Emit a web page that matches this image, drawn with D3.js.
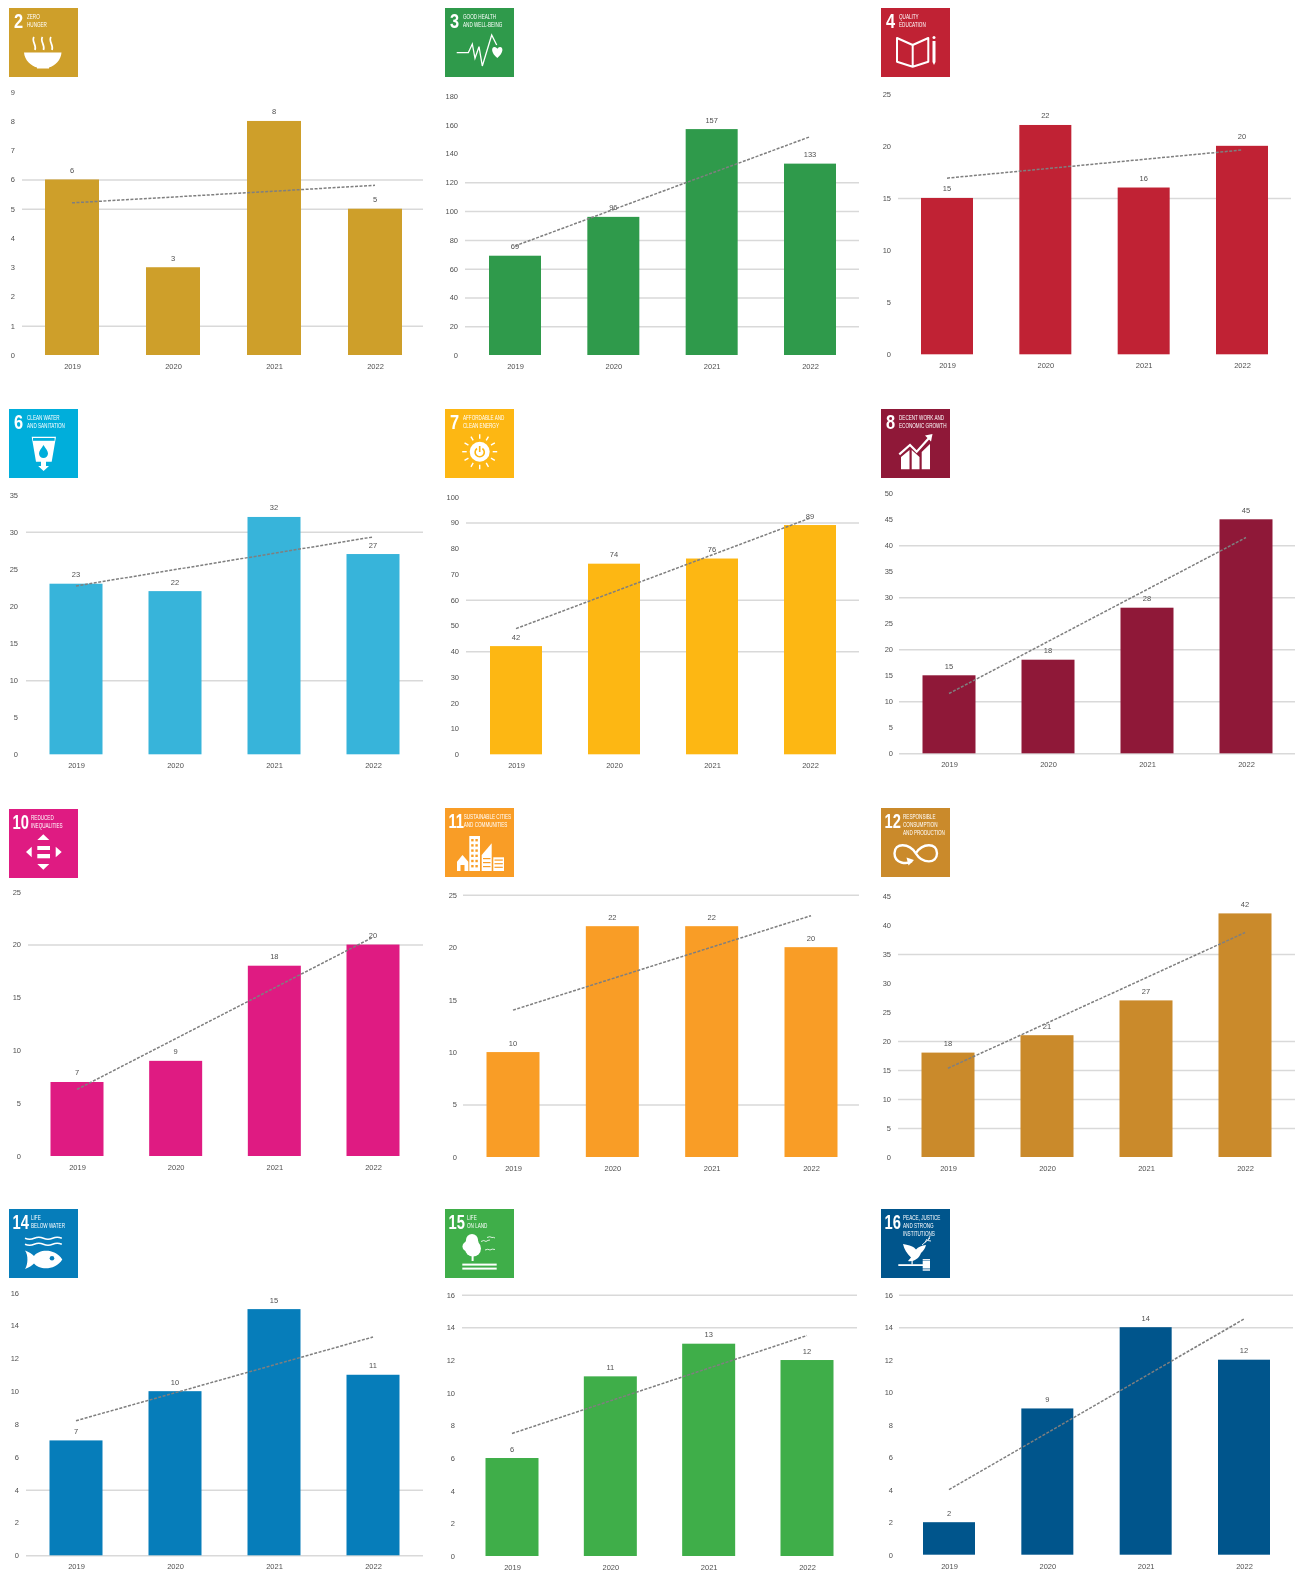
<!DOCTYPE html>
<html>
<head>
<meta charset="utf-8">
<script src="https://cdnjs.cloudflare.com/ajax/libs/d3/7.8.5/d3.min.js"></script>
<style>
  body { margin: 0; background: #fff; }
  svg { display: block; filter: blur(0.5px); }
  text { font-family: "Liberation Sans", Arial, sans-serif; }
  .axis text, .value { font-size: 7.5px; fill: #505050; }
  .axis path { display: none; }
  .axis line { stroke: none; }
  .grid line { stroke: #d9d9d9; stroke-width: 1.5; }
  .grid path { display: none; }
  .trend { fill: none; stroke: #7f7f7f; stroke-width: 1.5; stroke-dasharray: 3 1.5; }
  .badge text { font-family: "Liberation Sans Narrow", "Liberation Sans", sans-serif; fill: #fff; }
</style>
</head>
<body>
<div id="graph"></div>
<script>
const years = ['2019', '2020', '2021', '2022'];
const goals = [2, 3, 4, 6, 7, 8, 10, 11, 12, 14, 15, 16];
const goalTitles = [
  ['ZERO', 'HUNGER'],
  ['GOOD HEALTH', 'AND WELL-BEING'],
  ['QUALITY', 'EDUCATION'],
  ['CLEAN WATER', 'AND SANITATION'],
  ['AFFORDABLE AND', 'CLEAN ENERGY'],
  ['DECENT WORK AND', 'ECONOMIC GROWTH'],
  ['REDUCED', 'INEQUALITIES'],
  ['SUSTAINABLE CITIES', 'AND COMMUNITIES'],
  ['RESPONSIBLE', 'CONSUMPTION', 'AND PRODUCTION'],
  ['LIFE', 'BELOW WATER'],
  ['LIFE', 'ON LAND'],
  ['PEACE, JUSTICE', 'AND STRONG', 'INSTITUTIONS']
];
const barValues = [
  [6, 3, 8, 5],
  [69, 96, 157, 133],
  [15, 22, 16, 20],
  [23, 22, 32, 27],
  [42, 74, 76, 89],
  [15, 18, 28, 45],
  [7, 9, 18, 20],
  [10, 22, 22, 20],
  [18, 21, 27, 42],
  [7, 10, 15, 11],
  [6, 11, 13, 12],
  [2, 9, 14, 12]
];
// dashed trend line, value at the first and at the last year
const trendEnds = [
  [5.2, 5.8],
  [75.8, 151.7],
  [16.9, 19.6],
  [22.7, 29.3],
  [48.8, 91.7],
  [11.5, 41.5],
  [6.3, 20.7],
  [14, 23],
  [15.3, 38.7],
  [8.2, 13.3],
  [7.5, 13.5],
  [4, 14.5]
];
const yTicks = [
  [0, 1, 2, 3, 4, 5, 6, 7, 8, 9],
  [0, 20, 40, 60, 80, 100, 120, 140, 160, 180],
  [0, 5, 10, 15, 20, 25],
  [0, 5, 10, 15, 20, 25, 30, 35],
  [0, 10, 20, 30, 40, 50, 60, 70, 80, 90, 100],
  [0, 5, 10, 15, 20, 25, 30, 35, 40, 45, 50],
  [0, 5, 10, 15, 20, 25],
  [0, 5, 10, 15, 20, 25],
  [0, 5, 10, 15, 20, 25, 30, 35, 40, 45],
  [0, 2, 4, 6, 8, 10, 12, 14, 16],
  [0, 2, 4, 6, 8, 10, 12, 14, 16],
  [0, 2, 4, 6, 8, 10, 12, 14, 16]
];
// only some gridlines are visible in the picture
const gridValues = [
  [6, 5, 1],
  [20, 40, 60, 80, 100, 120],
  [15],
  [30, 10],
  [90, 60, 40],
  [40, 30, 20, 10, 0],
  [20],
  [25, 5],
  [35, 20, 15, 10, 5],
  [4, 0],
  [16, 14],
  [16, 14]
];
const barColors = ['#CE9F2A', '#2F9A4B', '#C02234', '#37B4DA', '#FDB713', '#8F1838',
  '#DF1B82', '#F99D26', '#CA8A2B', '#067DBA', '#3FAE49', '#00558C'];
const badgeColors = ['#CE9F2A', '#2F9A4B', '#C02234', '#00AEDB', '#FDB713', '#8F1838',
  '#DF1B82', '#F99D26', '#CA8A2B', '#067DBA', '#3FAE49', '#00558C'];

// page layout of every panel, in pixels
const frames = [
  {bx: 9,   by: 8,    first: 72,   last: 375,  barW: 54, base: 355,    top: 91.7,   gridL: 22,  gridR: 423,  labelR: 15},
  {bx: 445, by: 8,    first: 515,  last: 810,  barW: 52, base: 355,    top: 96,     gridL: 465, gridR: 859,  labelR: 458},
  {bx: 881, by: 8,    first: 947,  last: 1242, barW: 52, base: 354.3,  top: 93.7,   gridL: 898, gridR: 1291, labelR: 891},
  {bx: 9,   by: 409,  first: 76,   last: 373,  barW: 53, base: 754.3,  top: 494.7,  gridL: 26,  gridR: 423,  labelR: 18},
  {bx: 445, by: 409,  first: 516,  last: 810,  barW: 52, base: 754.3,  top: 496.7,  gridL: 466, gridR: 859,  labelR: 459},
  {bx: 881, by: 409,  first: 949,  last: 1246, barW: 53, base: 753.3,  top: 493.3,  gridL: 899, gridR: 1295, labelR: 893},
  {bx: 9,   by: 809,  first: 77,   last: 373,  barW: 53, base: 1156,   top: 891.7,  gridL: 28,  gridR: 423,  labelR: 21},
  {bx: 445, by: 808,  first: 513,  last: 811,  barW: 53, base: 1157,   top: 894.7,  gridL: 463, gridR: 859,  labelR: 457},
  {bx: 881, by: 808,  first: 948,  last: 1245, barW: 53, base: 1157,   top: 896,    gridL: 898, gridR: 1295, labelR: 891},
  {bx: 9,   by: 1209, first: 76,   last: 373,  barW: 53, base: 1555.3, top: 1292.7, gridL: 26,  gridR: 423,  labelR: 19},
  {bx: 445, by: 1209, first: 512,  last: 807,  barW: 53, base: 1556,   top: 1294.7, gridL: 462, gridR: 857,  labelR: 455},
  {bx: 881, by: 1209, first: 949,  last: 1244, barW: 52, base: 1554.7, top: 1294.7, gridL: 899, gridR: 1293, labelR: 893}
];

const svg = d3.select('#graph').append('svg')
  .attr('width', 1300)
  .attr('height', 1576);

// white pictograms, drawn in a 69 x 69 badge
const icons = {
  2: (g) => {
    g.append('path').attr('d', 'M15 44.5H52.5C52 52 46 58 40 59.5V60.5H28V59.5C22 58 15.5 52 15 44.5Z').attr('fill', '#fff');
    [25, 33.5, 42].forEach(x => {
      g.append('path')
        .attr('d', 'M' + x + ' 29C' + (x - 3) + ' 33 ' + (x + 3) + ' 37 ' + (x + 1) + ' 42')
        .attr('fill', 'none').attr('stroke', '#fff').attr('stroke-width', 1.7);
    });
  },
  3: (g) => {
    g.append('path').attr('d', 'M11.7 44.7H23.3L27.3 36L30 50.3L34 38.7L37.3 58L46.7 27L51.7 37')
      .attr('fill', 'none').attr('stroke', '#fff').attr('stroke-width', 1.3);
    g.append('path').attr('d', 'M52.3 50C46 45 46 39 49.5 39C51 39 52 40 52.3 41C52.6 40 53.6 39 55 39C58.6 39 58.6 45 52.3 50Z').attr('fill', '#fff');
  },
  4: (g) => {
    g.append('path').attr('d', 'M16 30L31.7 37V58.7L16 53.7ZM47.3 30L31.7 37V58.7L47.3 53.7Z')
      .attr('fill', 'none').attr('stroke', '#fff').attr('stroke-width', 2).attr('stroke-linejoin', 'round');
    g.append('path').attr('d', 'M51.5 33H54.5V54L53 57L51.5 54Z').attr('fill', '#fff');
    g.append('circle').attr('cx', 53).attr('cy', 29.5).attr('r', 1.5).attr('fill', '#fff');
  },
  6: (g, c) => {
    g.append('path').attr('d', 'M22.7 27.7H47L42.7 52.7H37V57H40L34.6 62L29.2 57H32V52.7H27Z').attr('fill', '#fff');
    g.append('rect').attr('x', 24).attr('y', 29).attr('width', 21.6).attr('height', 2.8).attr('fill', c);
    g.append('path').attr('d', 'M34.5 36C37 40 39 42 39 44.5C39 47 37 49 34.5 49C32 49 30 47 30 44.5C30 42 32 40 34.5 36Z').attr('fill', c);
  },
  7: (g, c) => {
    g.append('circle').attr('cx', 34.7).attr('cy', 42.7).attr('r', 10).attr('fill', '#fff');
    d3.range(12).forEach(i => {
      const a = i * Math.PI / 6;
      g.append('line')
        .attr('x1', 34.7 + 13 * Math.cos(a)).attr('y1', 42.7 + 13 * Math.sin(a))
        .attr('x2', 34.7 + 17.5 * Math.cos(a)).attr('y2', 42.7 + 17.5 * Math.sin(a))
        .attr('stroke', '#fff').attr('stroke-width', 1.4);
    });
    g.append('path').attr('d', 'M32 39.5A4.6 4.6 0 1 0 37.4 39.5').attr('fill', 'none').attr('stroke', c).attr('stroke-width', 1.6);
    g.append('line').attr('x1', 34.7).attr('x2', 34.7).attr('y1', 37).attr('y2', 43).attr('stroke', c).attr('stroke-width', 1.6);
  },
  8: (g) => {
    g.append('path').attr('d', 'M20 60.3V48L28.5 41V60.3ZM30.7 60.3V41L38.5 48V60.3ZM40.7 60.3V43L49 35V60.3Z').attr('fill', '#fff');
    g.append('path').attr('d', 'M18.3 45.3L29 36L35.7 42.7L48 29').attr('fill', 'none').attr('stroke', '#fff').attr('stroke-width', 2.2);
    g.append('path').attr('d', 'M44 26.5L51.5 25L50 32.5Z').attr('fill', '#fff');
  },
  10: (g) => {
    g.append('path').attr('d', 'M34.3 25.3L40.3 31H28.3ZM34.3 60.7L40.3 55H28.3ZM17 43L22.7 37.7V48.3ZM52.7 43L46.7 37.7V48.3Z').attr('fill', '#fff');
    g.append('rect').attr('x', 28.3).attr('y', 37).attr('width', 12.7).attr('height', 4).attr('fill', '#fff');
    g.append('rect').attr('x', 28.3).attr('y', 45).attr('width', 12.7).attr('height', 4.3).attr('fill', '#fff');
  },
  11: (g, c) => {
    g.append('path').attr('d', 'M12 53.7L17.5 47L23.3 53.7V63H19.5V57H15.5V63H12Z').attr('fill', '#fff');
    g.append('rect').attr('x', 24.3).attr('y', 28).attr('width', 10.7).attr('height', 35).attr('fill', '#fff');
    g.append('path').attr('d', 'M36.7 47L46.7 35.3V63H36.7Z').attr('fill', '#fff');
    g.append('rect').attr('x', 48.3).attr('y', 49.3).attr('width', 10.7).attr('height', 13.7).attr('fill', '#fff');
    d3.range(6).forEach(r => {
      [26.2, 30.4].forEach(x => {
        g.append('rect').attr('x', x).attr('y', 31 + r * 5.2).attr('width', 2.4).attr('height', 2.4).attr('fill', c);
      });
    });
    d3.range(3).forEach(r => {
      g.append('rect').attr('x', 38).attr('y', 50 + r * 4).attr('width', 7.5).attr('height', 1.2).attr('fill', c);
      g.append('rect').attr('x', 49.5).attr('y', 51.5 + r * 3.6).attr('width', 8.3).attr('height', 1.2).attr('fill', c);
    });
  },
  12: (g) => {
    g.append('path').attr('d', 'M31 53C26 56.5 13.5 56 13.5 45.3C13.5 34.5 28 34.5 34.8 45.3C41.5 56 56 56 56 45.3C56 34.5 41.5 34.5 34.8 45.3')
      .attr('fill', 'none').attr('stroke', '#fff').attr('stroke-width', 2.4);
    g.append('path').attr('d', 'M25.5 49.5L33 52L27.5 57.5Z').attr('fill', '#fff');
  },
  14: (g, c) => {
    [29.3, 35.3].forEach(y => {
      g.append('path')
        .attr('d', 'M16 ' + y + 'q4.6 2 9.2 0t9.2 0t9.2 0t9.2 0')
        .attr('fill', 'none').attr('stroke', '#fff').attr('stroke-width', 1.5);
    });
    g.append('path').attr('d', 'M16 41.5C20 43 23 45 25 47C30 40 46 39 53.3 50.5C46 62 30 61 25 54.5C23 56.5 20 58.5 16 60C19 56 19.5 46 16 41.5Z').attr('fill', '#fff');
    g.append('circle').attr('cx', 43).attr('cy', 49.3).attr('r', 2.3).attr('fill', c);
  },
  15: (g) => {
    [[27, 31, 6], [22.5, 37.5, 5], [28, 39.5, 8], [27, 34, 6.5]].forEach(d => {
      g.append('circle').attr('cx', d[0]).attr('cy', d[1]).attr('r', d[2]).attr('fill', '#fff');
    });
    g.append('rect').attr('x', 26.6).attr('y', 46).attr('width', 2).attr('height', 6).attr('fill', '#fff');
    [54.6, 58.6].forEach(y => {
      g.append('rect').attr('x', 17.3).attr('y', y).attr('width', 34.4).attr('height', 2).attr('fill', '#fff');
    });
    g.append('path').attr('d', 'M36 32.5Q39 30.5 41 32.5Q43 31 45 31M42 28.5Q45 27 47 28.5Q48.5 28 50 29M40 41Q43 39.5 45 41Q47 39.5 50 40.5')
      .attr('fill', 'none').attr('stroke', '#fff').attr('stroke-width', 0.8);
  },
  16: (g) => {
    g.append('path').attr('d', 'M22 35C27 36 31 37 33 38.5L35 40.5C37 38 41 36.5 45 36C44 40 42 42 40 44C38 50 32 53 27 52L30 48.5C26 45 23 40 22 35Z').attr('fill', '#fff');
    g.append('path').attr('d', 'M41 36L49 29M44 33.5L46 30M46.5 31.5L50 32M47.5 30L49 27')
      .attr('fill', 'none').attr('stroke', '#fff').attr('stroke-width', 0.9);
    g.append('rect').attr('x', 30.5).attr('y', 51).attr('width', 1.2).attr('height', 4.5).attr('fill', '#fff');
    g.append('rect').attr('x', 17.3).attr('y', 55.2).attr('width', 25).attr('height', 1.8).attr('fill', '#fff');
    g.append('rect').attr('x', 41.7).attr('y', 51.5).attr('width', 7.3).attr('height', 8).attr('fill', '#fff');
    g.append('rect').attr('x', 41.7).attr('y', 60.3).attr('width', 7.3).attr('height', 1.4).attr('fill', '#fff');
    g.append('rect').attr('x', 41.7).attr('y', 50).attr('width', 7.3).attr('height', 0.9).attr('fill', '#fff');
  }
};

goals.forEach((goal, i) => {
  const f = frames[i];
  const color = barColors[i];

  const x = d3.scalePoint().domain(years).range([f.first, f.last]);
  const y = d3.scaleLinear().domain([0, yTicks[i][yTicks[i].length - 1]]).range([f.base, f.top]);

  // gridlines
  svg.append('g')
    .attr('class', 'grid')
    .attr('transform', 'translate(' + f.gridL + ',0)')
    .call(d3.axisLeft(y).tickValues(gridValues[i]).tickSize(f.gridL - f.gridR).tickFormat(''));

  // bars
  svg.append('g').selectAll('rect')
    .data(barValues[i])
    .join('rect')
    .attr('x', (d, j) => x(years[j]) - f.barW / 2)
    .attr('y', d => y(d))
    .attr('width', f.barW)
    .attr('height', d => y(0) - y(d))
    .attr('fill', color);

  // bar labels
  svg.append('g').selectAll('text')
    .data(barValues[i])
    .join('text')
    .attr('class', 'value')
    .attr('x', (d, j) => x(years[j]))
    .attr('y', d => y(d) - 6.5)
    .attr('text-anchor', 'middle')
    .text(d => d);

  // trend line
  const line = d3.line()
    .x((d, j) => x(years[j * (years.length - 1)]))
    .y(d => y(d));
  svg.append('path')
    .attr('class', 'trend')
    .attr('d', line(trendEnds[i]));

  // axes
  svg.append('g')
    .attr('class', 'axis')
    .attr('transform', 'translate(' + f.labelR + ',0)')
    .call(d3.axisLeft(y).tickValues(yTicks[i]).tickSize(0).tickPadding(0));
  svg.append('g')
    .attr('class', 'axis')
    .attr('transform', 'translate(0,' + (f.base + 8.5) + ')')
    .call(d3.axisBottom(x).tickSize(0).tickPadding(0));

  // goal badge
  const badge = svg.append('g')
    .attr('class', 'badge')
    .attr('transform', 'translate(' + f.bx + ',' + f.by + ')');
  badge.append('rect')
    .attr('width', 69)
    .attr('height', 69)
    .attr('fill', badgeColors[i]);
  const wide = goal > 9;
  badge.append('text')
    .attr('transform', 'translate(' + (wide ? 3.5 : 5) + ',20) scale(' + (wide ? 0.7 : 0.78) + ',1)')
    .attr('font-size', 21)
    .attr('font-weight', 'bold')
    .text(goal);
  // the narrow "11" leaves more room for its long title
  const titleX = goal === 11 ? 18.7 : (wide ? 22 : 18);
  goalTitles[i].forEach((t, k) => {
    badge.append('text')
      .attr('transform', 'translate(' + titleX + ',' + (11 + k * 8.1) + ') scale(0.72,1)')
      .attr('font-size', 6.4)
      .text(t);
  });
  icons[goal](badge, badgeColors[i]);
});
</script>
</body>
</html>
